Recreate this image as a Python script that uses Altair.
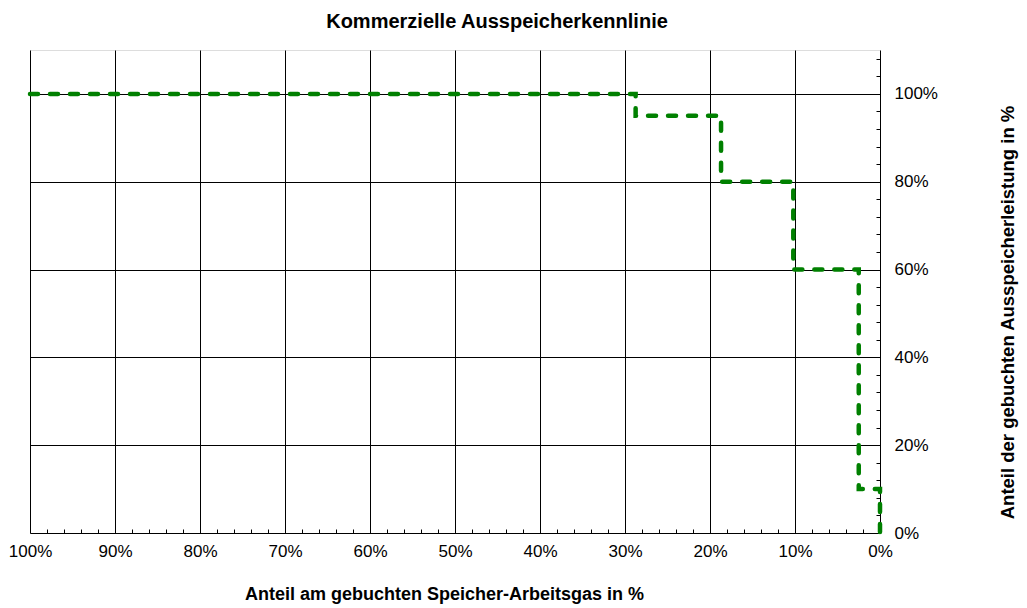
import altair as alt
import pandas as pd

# Step curve: share of booked working gas (x, %) vs. share of booked withdrawal capacity (y, %)
x_share = [100, 28.75, 18.7, 10.2, 2.5, 0]
y_share = [100, 95, 80, 60, 10, 0]

# axis tick values (major + minor)
x_tick_values = list(range(0, 101, 2))
y_tick_values = list(range(0, 109, 4))

W, H = 850, 483
FONT = "Liberation Sans"

df = pd.DataFrame({"x": x_share, "y": y_share, "order": list(range(len(x_share)))})

x_axis = alt.Axis(
    values=x_tick_values,
    labelExpr="datum.value % 10 === 0 ? datum.value + '%' : ''",
    labelOverlap=False,
    labelFlush=False,
    labelFont=FONT,
    labelFontSize=17,
    labelColor="black",
    labelPadding=10,
    ticks=False,
    domain=False,
    grid=True,
    gridColor="black",
    gridOpacity=1,
    gridWidth=1,
    gridDash={"condition": {"test": "datum.value % 10 === 0", "value": []},
              "value": [0, H - 4, 4, 3000]},
    title="Anteil am gebuchten Speicher-Arbeitsgas in %",
    titleFont=FONT,
    titleFontSize=18,
    titleFontWeight="bold",
    titleColor="black",
    titlePadding=26,
    titleX=414,
)

y_axis = alt.Axis(
    orient="right",
    values=y_tick_values,
    labelExpr="datum.value % 20 === 0 ? datum.value + '%' : ''",
    labelOverlap=False,
    labelFlush=False,
    labelFont=FONT,
    labelFontSize=17,
    labelColor="black",
    labelPadding=14,
    labelAlign="left",
    labelBaseline="middle",
    ticks=False,
    domain=False,
    grid=True,
    gridColor="black",
    gridOpacity=1,
    gridWidth=1,
    gridDash={"condition": {"test": "datum.value % 20 === 0", "value": []},
              "value": [0, W - 4, 4, 3000]},
    title="Anteil der gebuchten Ausspeicherleistung in %",
    titleFont=FONT,
    titleFontSize=18.5,
    titleFontWeight="bold",
    titleColor="black",
    titleAngle=270,
    titlePadding=80,
    titleY=262,
)

chart = (
    alt.Chart(df)
    .mark_line(
        interpolate="step-after",
        color="#008000",
        strokeWidth=4.5,
        strokeDash=[8, 12],
        strokeCap="round",
    )
    .encode(
        x=alt.X("x:Q", scale=alt.Scale(domain=[0, 100], reverse=True, nice=False, zero=False), axis=x_axis),
        y=alt.Y("y:Q", scale=alt.Scale(domain=[0, 110], nice=False, zero=False), axis=y_axis),
        order=alt.Order("order:Q"),
    )
    .properties(
        width=W,
        height=H,
        title=alt.TitleParams(
            "Kommerzielle Ausspeicherkennlinie",
            font=FONT,
            fontSize=20,
            fontWeight="bold",
            color="black",
            anchor="middle",
            frame="group",
            dx=42,
            offset=18,
        ),
        autosize=alt.AutoSizeParams(type="none"),
        padding={"left": 22, "top": 42, "right": 139, "bottom": 71},
    )
    .configure_view(stroke="black", strokeWidth=1)
    .configure(background="white")
)

chart.save("out.html", embed_options={"renderer": "svg", "actions": False})
